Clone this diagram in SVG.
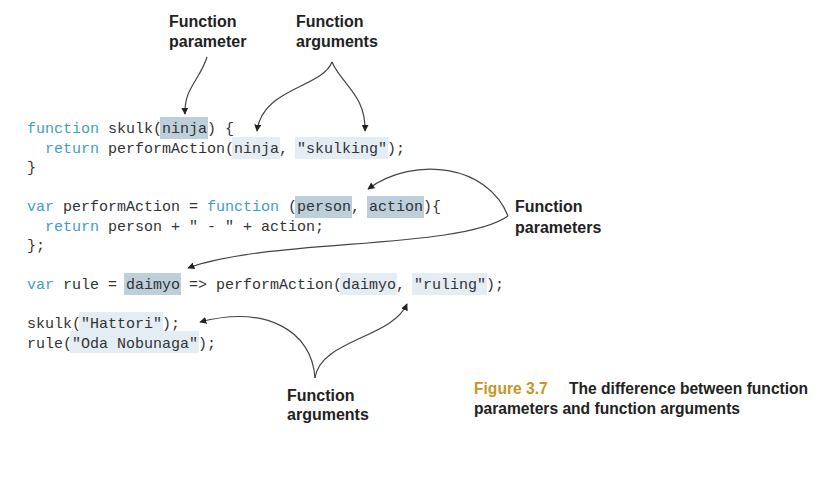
<svg xmlns="http://www.w3.org/2000/svg" width="830" height="492" viewBox="0 0 830 492">
<defs>
<style>
.code{font-family:"Liberation Mono","Courier New",monospace;font-size:15px;fill:#333;white-space:pre}
.kw{fill:#3f9dc7}
.hd{fill:#bccfdb}
.hl{fill:#e4edf3}
.lbl{font-family:"Liberation Sans",Arial,sans-serif;font-weight:bold;font-size:16px;fill:#222}
.cap{font-family:"Liberation Sans",Arial,sans-serif;font-weight:bold;font-size:15.6px;fill:#222}
.fig{fill:#c8961f}
.conn path{fill:none;stroke:#444;stroke-width:1.2}
</style>
<marker id="ah" viewBox="0 0 10 10" refX="9" refY="5" markerWidth="7" markerHeight="7" markerUnits="userSpaceOnUse" orient="auto">
<path d="M0,0 L10,5 L0,10 z" fill="#222"/>
</marker>
</defs>
<rect width="830" height="492" fill="#fff"/>

<g id="highlights">
<rect class="hd" x="160" y="117" width="48" height="22"/>
<rect class="hl" x="232" y="137" width="48" height="22"/>
<rect class="hl" x="295" y="137" width="93" height="22"/>
<rect class="hd" x="295" y="196" width="57" height="22"/>
<rect class="hd" x="367" y="196" width="57" height="22"/>
<rect class="hd" x="124" y="273" width="57" height="22"/>
<rect class="hl" x="340" y="273" width="57" height="22"/>
<rect class="hl" x="412" y="273" width="75" height="22"/>
<rect class="hl" x="79" y="312" width="84" height="22"/>
<rect class="hl" x="70" y="331" width="129" height="22"/>
</g>

<g id="code">
<text class="code" x="27" y="133"><tspan class="kw">function</tspan> skulk(ninja) {</text>
<text class="code" x="27" y="152.5">  <tspan class="kw">return</tspan> performAction(ninja, "skulking");</text>
<text class="code" x="27" y="172">}</text>
<text class="code" x="27" y="211"><tspan class="kw">var</tspan> performAction = <tspan class="kw">function</tspan> (person, action){</text>
<text class="code" x="27" y="230.5">  <tspan class="kw">return</tspan> person + " - " + action;</text>
<text class="code" x="27" y="250">};</text>
<text class="code" x="27" y="289"><tspan class="kw">var</tspan> rule = daimyo =&gt; performAction(daimyo, "ruling");</text>
<text class="code" x="27" y="328">skulk("Hattori");</text>
<text class="code" x="27" y="347.5">rule("Oda Nobunaga");</text>
</g>

<g id="label-param-top">
<text class="lbl" x="169" y="27">Function</text>
<text class="lbl" x="169" y="47">parameter</text>
</g>
<g id="label-args-top">
<text class="lbl" x="296" y="27">Function</text>
<text class="lbl" x="296" y="47">arguments</text>
</g>
<g id="label-params-right">
<text class="lbl" x="515" y="212">Function</text>
<text class="lbl" x="515" y="233">parameters</text>
</g>
<g id="label-args-bottom">
<text class="lbl" x="287" y="401">Function</text>
<text class="lbl" x="287" y="420">arguments</text>
</g>

<g id="caption">
<text class="cap" x="474" y="394"><tspan class="fig">Figure 3.7</tspan><tspan x="569">The difference between function</tspan></text>
<text class="cap" x="474" y="414">parameters and function arguments</text>
</g>

<g id="connectors" class="conn">
<path d="M207,57 C200,80 184,88 185,114" marker-end="url(#ah)"/>
<path d="M332,62 C322,88 262,88 257,131" marker-end="url(#ah)"/>
<path d="M332,62 C342,85 366,95 365,131" marker-end="url(#ah)"/>
<path d="M508,216 C488,165 415,155 368,189" marker-end="url(#ah)"/>
<path d="M508,216 C460,250 270,238 188,268" marker-end="url(#ah)"/>
<path d="M315,378 C312,330 265,305 200,322" marker-end="url(#ah)"/>
<path d="M315,378 C320,340 392,338 407,304" marker-end="url(#ah)"/>
</g>
</svg>
